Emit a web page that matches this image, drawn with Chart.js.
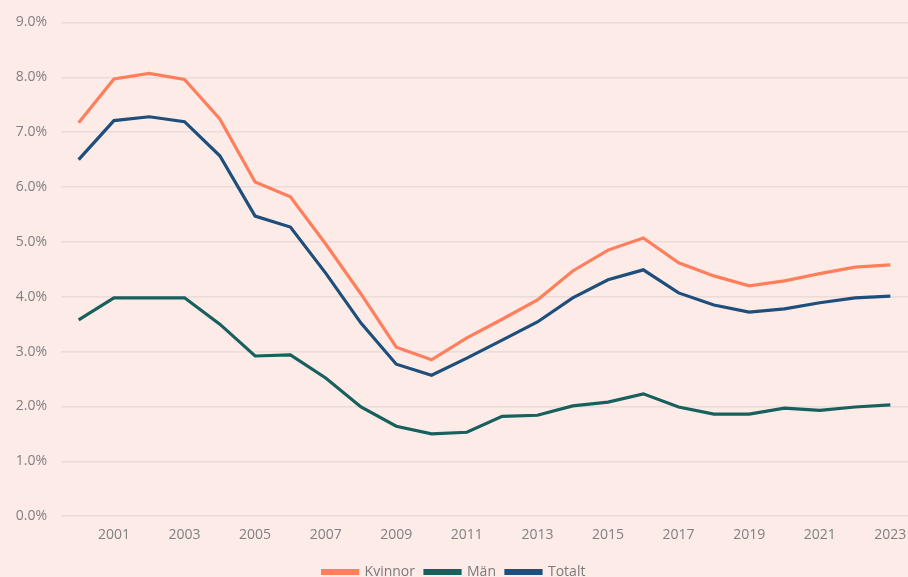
<!DOCTYPE html>
<html>
<head>
<meta charset="utf-8">
<script src="https://cdn.jsdelivr.net/npm/chart.js@4/dist/chart.umd.min.js"></script>
<style>
html,body{margin:0;padding:0;background:#fdebe7;overflow:hidden;width:908px;height:577px;}
#wrap{position:absolute;left:0;top:0;width:908px;height:589px;}
</style>
</head>
<body>
<div id="wrap"><canvas id="c"></canvas></div>
<script>
const years = ['2000','2001','2002','2003','2004','2005','2006','2007','2008','2009','2010','2011','2012','2013','2014','2015','2016','2017','2018','2019','2020','2021','2022','2023'];
const kvinnor = [7.17,7.97,8.07,7.96,7.24,6.09,5.82,4.96,4.05,3.08,2.85,3.25,3.59,3.94,4.47,4.85,5.07,4.62,4.38,4.20,4.29,4.42,4.54,4.58];
const man = [3.58,3.98,3.98,3.98,3.50,2.92,2.94,2.52,1.99,1.64,1.50,1.53,1.82,1.84,2.01,2.08,2.23,1.99,1.86,1.86,1.97,1.93,1.99,2.03];
const totalt = [6.50,7.21,7.28,7.19,6.57,5.47,5.27,4.43,3.52,2.77,2.57,2.88,3.21,3.54,3.98,4.31,4.49,4.07,3.85,3.72,3.78,3.89,3.98,4.01];
const seriesNames = ['Kvinnor','Män','Totalt'];
const colors = ['#ff7f5c','#17605e','#1e4e7c'];

const font = {family:"'Open Sans', 'DejaVu Sans', sans-serif", size:14};
new Chart(document.getElementById('c'), {
  type:'line',
  data:{
    labels:years,
    datasets:[kvinnor,man,totalt].map((d,i)=>({
      label:seriesNames[i], data:d, borderColor:colors[i], backgroundColor:colors[i],
      borderWidth:3.2, pointRadius:0, tension:0, fill:false
    }))
  },
  options:{
    responsive:true, maintainAspectRatio:false, animation:false,
    layout:{padding:{left:0,right:0,top:16,bottom:0}},
    plugins:{
      legend:{position:'bottom', labels:{font:font, color:'#7a7a7a', boxWidth:35, boxHeight:3, padding:10}},
      tooltip:{enabled:false}
    },
    scales:{
      x:{offset:true, grid:{display:false, drawTicks:true, tickLength:10}, border:{display:false},
         afterFit:s=>{ s.height += 12; },
         ticks:{font:font, color:'#808080', autoSkip:false, maxRotation:0, padding:0,
           callback:function(v,i){ return (i%2===1)? this.getLabelForValue(v) : ''; }}},
      y:{min:0, max:9, grid:{color:'#eadcd9', lineWidth:1.5, drawTicks:false}, border:{display:false},
         afterFit:s=>{ s.width = 61; },
         ticks:{stepSize:1, font:font, color:'#808080', padding:14,
           callback:v=>v.toFixed(1)+'%'}}
    }
  }
});
</script>
</body>
</html>
